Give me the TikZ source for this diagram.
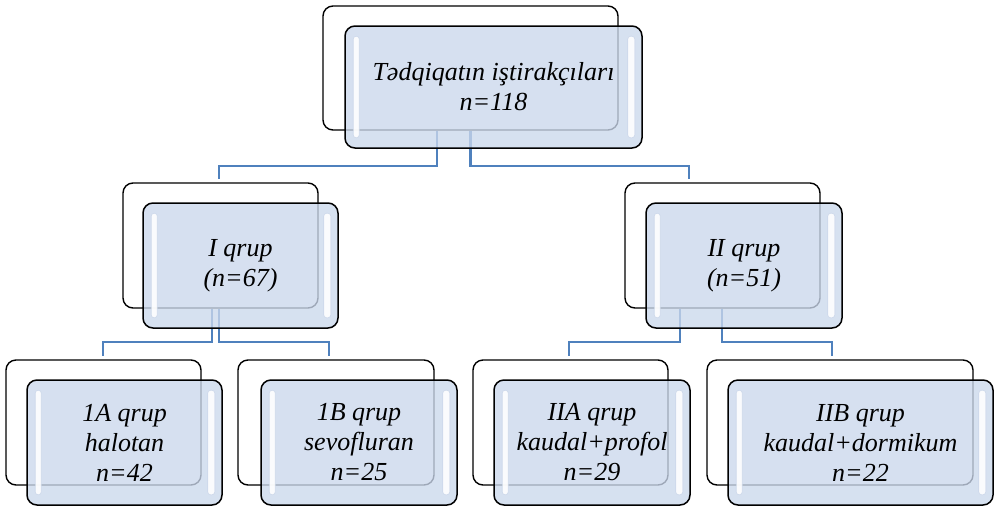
\documentclass[tikz,border=0pt]{standalone}
\usepackage{fontspec}
\setmainfont{Liberation Serif}
\begin{document}
\begin{tikzpicture}[x=1pt,y=-1pt,
  backbox/.style={draw=black,line width=1.4pt,fill=white,rounded corners=10pt,inner sep=0pt,minimum height=125pt},
  frontbox/.style={draw=black,line width=1.5pt,fill={rgb,255:red,203;green,216;blue,236},fill opacity=0.78,rounded corners=10pt,inner sep=0pt,minimum height=125pt},
  hl/.style={fill=white,fill opacity=0.9,draw={rgb,255:red,190;green,205;blue,228},draw opacity=0.6,line width=0.6pt,rounded corners=3pt},
  lbl/.style={align=center,font=\itshape\fontsize{26}{30}\selectfont,inner sep=0pt},
  conn/.style={draw={rgb,255:red,79;green,129;blue,189},line width=2.3pt}]
\useasboundingbox (0,0) rectangle (1000,509);
% back boxes
\node[backbox,minimum width=295pt,minimum height=124pt] (topb) at (470.5,68) {};
\node[backbox,minimum width=195pt] (Ib) at (220.5,245.5) {};
\node[backbox,minimum width=195pt] (IIb) at (722.5,245.5) {};
\node[backbox,minimum width=195pt] (Ab) at (103.5,422.5) {};
\node[backbox,minimum width=196pt] (Bb) at (336,422.5) {};
\node[backbox,minimum width=195pt] (IIAb) at (570.5,422.5) {};
\node[backbox,minimum width=266pt] (IIBb) at (840,422.5) {};
% connectors
\draw[conn,shorten >=3pt] ([xshift=-33.5pt]topb.south) -- ++(0,35) -| ([xshift=-1.5pt]Ib.north);
\draw[conn,shorten >=3pt] (topb.south) -- ++(0,35) -| ([xshift=-33.5pt]IIb.north);
\draw[conn,shorten >=3pt] ([xshift=-8.5pt]Ib.south) -- ++(0,33) -| ([xshift=-0.5pt]Ab.north);
\draw[conn,shorten >=3pt] ([xshift=-1.5pt]Ib.south) -- ++(0,33) -| ([xshift=-7pt]Bb.north);
\draw[conn,shorten >=3pt] ([xshift=-42.5pt]IIb.south) -- ++(0,33) -| ([xshift=-1.5pt]IIAb.north);
\draw[conn,shorten >=3pt] ([xshift=-0.5pt]IIb.south) -- ++(0,33) -| ([xshift=-8pt]IIBb.north);
% front boxes
\node[frontbox,minimum width=297pt,minimum height=122pt] (topf) at (493.5,87) {};
\node[frontbox,minimum width=195pt] (If) at (240.5,265.5) {};
\node[frontbox,minimum width=196pt] (IIf) at (744,265.5) {};
\node[frontbox,minimum width=195pt] (Af) at (124.5,442.5) {};
\node[frontbox,minimum width=196pt] (Bf) at (359,442.5) {};
\node[frontbox,minimum width=196pt] (IIAf) at (592,442.5) {};
\node[frontbox,minimum width=265pt] (IIBf) at (860.5,442.5) {};
% highlights
\foreach \f in {topf,If,IIf,Af,Bf,IIAf,IIBf}{
  \fill[hl] ([xshift=9pt,yshift=-11pt]\f.north west) rectangle ([xshift=15pt,yshift=11pt]\f.south west);
  \fill[hl] ([xshift=-15pt,yshift=-11pt]\f.north east) rectangle ([xshift=-8pt,yshift=11pt]\f.south east);
}
% labels
\node[lbl] (topt) at (topf) {Tədqiqatın iştirakçıları\\n=118};
\node[lbl] (It) at (If) {I qrup\\(n=67)};
\node[lbl] (IIt) at (IIf) {II qrup\\(n=51)};
\node[lbl] (At) at (Af) {1A qrup\\halotan\\n=42};
\node[lbl] (Bt) at (Bf) {1B qrup\\sevofluran\\n=25};
\node[lbl] (IIAt) at (IIAf) {IIA qrup\\kaudal+profol\\n=29};
\node[lbl] (IIBt) at (IIBf) {IIB qrup\\kaudal+dormikum\\n=22};
\end{tikzpicture}
\end{document}
